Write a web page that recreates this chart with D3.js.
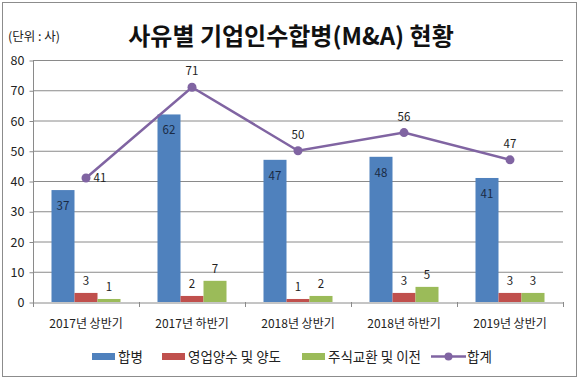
<!DOCTYPE html>
<html><head><meta charset="utf-8">
<script src="https://cdn.jsdelivr.net/npm/d3@7"></script>
<style>body{margin:0;background:#fff}svg{display:block}</style>
</head><body><svg id="c" width="580" height="380"></svg>
<script>
const categories = ["2017년 상반기","2017년 하반기","2018년 상반기","2018년 하반기","2019년 상반기"];
const seriesNames = ["합병","영업양수 및 양도","주식교환 및 이전"];
const merger = [37,62,47,48,41];
const transfer = [3,2,1,3,3];
const exchange = [1,7,2,5,3];
const total = [41,71,50,56,47];
const yTicks = [0,10,20,30,40,50,60,70,80];
const colors = ["#4F81BD","#C0504D","#9BBB59"];
const lineColor = "#8064A2";
const font = "'Noto Sans CJK KR','Noto Sans',sans-serif";

(function(){
const svg = d3.select("#c");
svg.append("rect").attr("x",2.5).attr("y",2.5).attr("width",574).attr("height",374)
  .attr("fill","#fff").attr("stroke","#8c8c8c").attr("stroke-width",1);

const pL=33, pR=563, pT=60, pB=302;
const x = d3.scaleBand().domain(categories).range([pL,pR]);
const y = d3.scaleLinear().domain([0,80]).range([pB,pT]);
const barW = x.bandwidth()*0.217;

// gridlines
svg.append("g").selectAll("line").data(yTicks.filter(d=>d>0)).join("line")
  .attr("x1",pL).attr("x2",pR).attr("y1",d=>y(d)+0.5).attr("y2",d=>y(d)+0.5)
  .attr("stroke","#8a8a8a").attr("stroke-width",1);

// y axis
const ya = svg.append("g").attr("transform",`translate(${pL+0.5},0.5)`)
  .call(d3.axisLeft(y).tickValues(yTicks).tickSize(4).tickPadding(5));
ya.select(".domain").attr("stroke","#8a8a8a").attr("d",`M0,${y(80)}V${y(0)}`);
ya.selectAll(".tick line").attr("stroke","#8a8a8a");
ya.selectAll("text").attr("font-family",font).attr("font-size",12.5).attr("fill","#222");

// x axis
const xa = svg.append("g").attr("transform",`translate(0,${pB+0.5})`)
  .call(d3.axisBottom(x).tickSize(0).tickPadding(17));
xa.select(".domain").attr("stroke","#8a8a8a");
xa.selectAll("text").attr("font-family",font).attr("font-size",12).attr("fill","#222");
svg.append("g").selectAll("line").data(categories).join("line")
  .attr("x1",d=>x(d)+x.bandwidth()+0.5).attr("x2",d=>x(d)+x.bandwidth()+0.5)
  .attr("y1",pB).attr("y2",pB+5).attr("stroke","#8a8a8a");
svg.append("line").attr("x1",pL+0.5).attr("x2",pL+0.5).attr("y1",pB).attr("y2",pB+5).attr("stroke","#8a8a8a");

// bars
const data = [merger,transfer,exchange];
data.forEach((vals,si)=>{
  const g = svg.append("g");
  g.selectAll("rect").data(vals).join("rect")
    .attr("x",(d,i)=>x(categories[i])+x.bandwidth()/2+(si-1.5)*barW)
    .attr("width",barW).attr("y",d=>y(d)).attr("height",d=>pB-y(d))
    .attr("fill",colors[si]);
  g.selectAll("text").data(vals).join("text")
    .attr("x",(d,i)=>x(categories[i])+x.bandwidth()/2+(si-1)*barW)
    .attr("y",d=> si===0 ? y(d)+20 : y(d)-8)
    .attr("text-anchor","middle").attr("font-family",font).attr("font-size",11.5)
    .attr("fill",si===0?"#1a2a44":"#222").text(d=>d);
});

// line
const cx = c=>x(c)+x.bandwidth()/2;
svg.append("path").datum(total)
  .attr("d",d3.line().x((d,i)=>cx(categories[i])).y(d=>y(d)))
  .attr("fill","none").attr("stroke",lineColor).attr("stroke-width",2.5);
svg.append("g").selectAll("circle").data(total).join("circle")
  .attr("cx",(d,i)=>cx(categories[i])).attr("cy",d=>y(d)).attr("r",4.5).attr("fill",lineColor);
svg.append("g").selectAll("text").data(total).join("text")
  .attr("x",(d,i)=>i===0?cx(categories[i])+14:cx(categories[i]))
  .attr("y",(d,i)=>i===0?y(d)+4:y(d)-12)
  .attr("text-anchor","middle").attr("font-family",font).attr("font-size",11.5).attr("fill","#222")
  .text(d=>d);

// title
svg.append("text").attr("x",291).attr("y",45).attr("text-anchor","middle")
  .attr("font-family",font).attr("font-weight","bold").attr("font-size",24).attr("fill","#111")
  .text("사유별 기업인수합병(M&A) 현황");
svg.append("text").attr("x",8).attr("y",41).attr("font-family",font).attr("font-size",12.5)
  .attr("fill","#222").text("(단위 : 사)");

// legend
const lg = svg.append("g").attr("font-family",font).attr("font-size",13.5).attr("fill","#222");
const legX = [92,162,302];
seriesNames.forEach((n,i)=>{
  lg.append("rect").attr("x",legX[i]).attr("y",353).attr("width",23).attr("height",7).attr("fill",colors[i]);
  lg.append("text").attr("x",legX[i]+26).attr("y",362).text(n);
});
lg.append("line").attr("x1",431).attr("x2",466).attr("y1",356.5).attr("y2",356.5).attr("stroke",lineColor).attr("stroke-width",2.5);
lg.append("circle").attr("cx",448.5).attr("cy",356.5).attr("r",4).attr("fill",lineColor);
lg.append("text").attr("x",467).attr("y",362).text("합계");
})();
</script></body></html>
